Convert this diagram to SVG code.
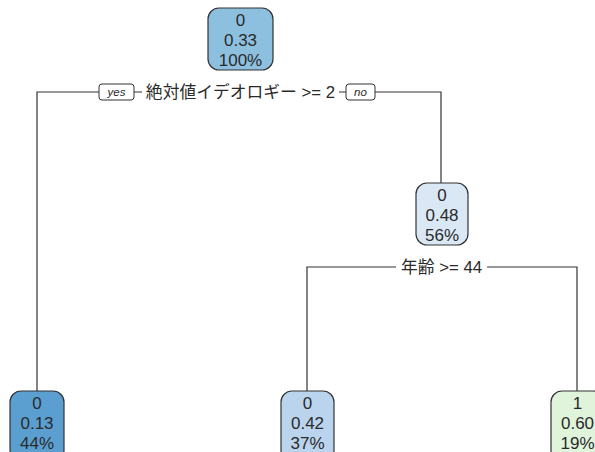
<svg xmlns="http://www.w3.org/2000/svg" width="595" height="452" viewBox="0 0 595 452">
<style>
.box{stroke:#333;stroke-width:1.2}
.t{font-family:"Liberation Sans","Noto Sans CJK JP",sans-serif;font-size:17px;fill:#2a2a2a;text-anchor:middle}
.lbl{font-family:"Liberation Sans","Noto Sans CJK JP",sans-serif;font-size:16.8px;fill:#2a2a2a;text-anchor:middle}
.yn{font-family:"Liberation Sans",sans-serif;font-size:11.5px;font-style:italic;fill:#2a2a2a;text-anchor:middle}
.ynb{fill:#fff;stroke:#333;stroke-width:1}
.ln{fill:none;stroke:#333;stroke-width:1.2}
</style>
<rect width="595" height="452" fill="#fff"/>
<g id="connectors">
<path class="ln" d="M37,391 V92 H99 M134,92 H142 M339,92 H346 M375,92 H441 V183"/>
<path class="ln" d="M307,391 V267 H396 M487,267 H577 V391"/>
</g>
<g id="split1">
<rect class="ynb" x="99" y="84" width="35" height="16" rx="3"/>
<text class="yn" x="116.5" y="96">yes</text>
<text class="lbl" x="240.5" y="98">絶対値イデオロギー &gt;= 2</text>
<rect class="ynb" x="346" y="84" width="29" height="16" rx="3"/>
<text class="yn" x="360.5" y="96">no</text>
</g>
<g id="split2">
<text class="lbl" x="441.5" y="273">年齢 &gt;= 44</text>
</g>
<g id="node1">
<rect class="box" x="208" y="8" width="65" height="62" rx="11" fill="#8dbfdf"/>
<text class="t" x="240.5" y="26">0</text>
<text class="t" x="240.5" y="46">0.33</text>
<text class="t" x="240.5" y="66">100%</text>
</g>
<g id="node3">
<rect class="box" x="416" y="183" width="52" height="62" rx="11" fill="#dae8f5"/>
<text class="t" x="442" y="201">0</text>
<text class="t" x="442" y="221">0.48</text>
<text class="t" x="442" y="241">56%</text>
</g>
<g id="node2">
<rect class="box" x="10" y="391" width="54" height="70" rx="11" fill="#5b9fd1"/>
<text class="t" x="37" y="409">0</text>
<text class="t" x="37" y="429">0.13</text>
<text class="t" x="37" y="449">44%</text>
</g>
<g id="node6">
<rect class="box" x="281" y="391" width="53" height="70" rx="11" fill="#bad4ee"/>
<text class="t" x="307.5" y="409">0</text>
<text class="t" x="307.5" y="429">0.42</text>
<text class="t" x="307.5" y="449">37%</text>
</g>
<g id="node7">
<rect class="box" x="551" y="391" width="53" height="70" rx="11" fill="#e0f3db"/>
<text class="t" x="577.5" y="409">1</text>
<text class="t" x="577.5" y="429">0.60</text>
<text class="t" x="577.5" y="449">19%</text>
</g>
</svg>
